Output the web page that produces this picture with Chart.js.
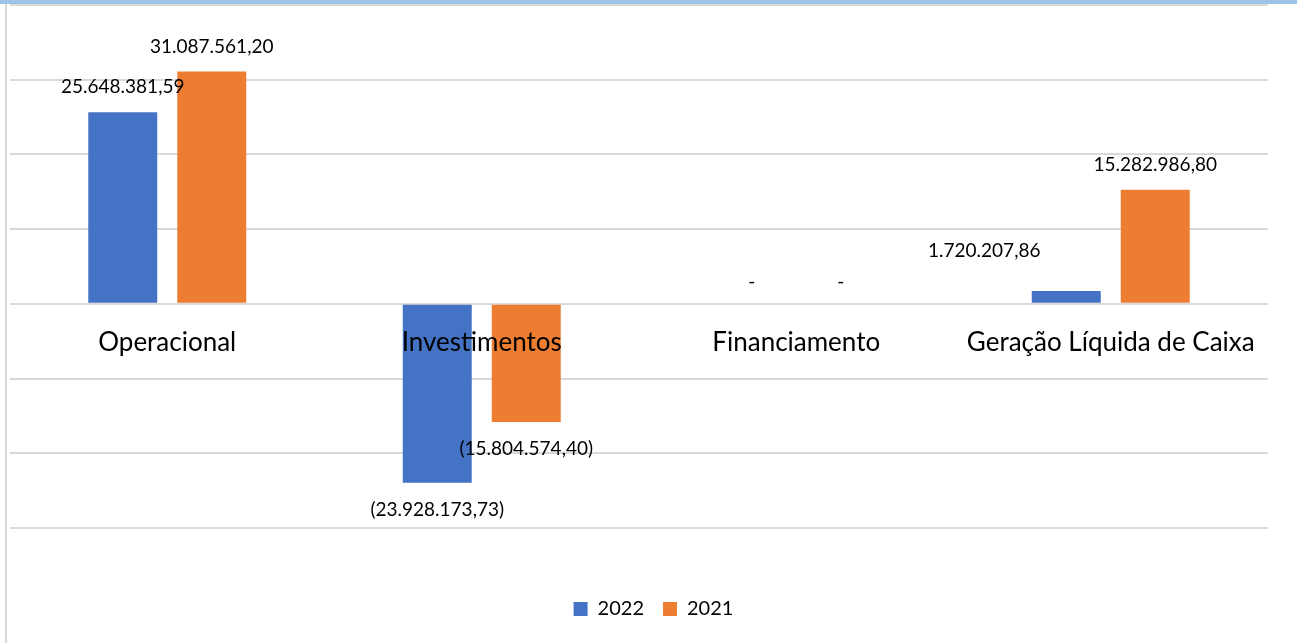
<!DOCTYPE html>
<html>
<head>
<meta charset="utf-8">
<script src="https://cdn.jsdelivr.net/npm/chart.js@4.4.0/dist/chart.umd.min.js"></script>
<style>
    html, body { margin: 0; padding: 0; background: #fff; }
    .frame { position: relative; width: 1297px; height: 643px; overflow: hidden; }
    .frame canvas { position: absolute; left: 0; top: 0; }
    .band { position: absolute; left: 0; top: 0; width: 1297px; height: 4px; background: #9dc3e6; }
    .edge { position: absolute; left: 5px; top: 4px; width: 2px; height: 639px; background: #d9d9d9; }
</style>
</head>
<body>
<div class="frame">
    <canvas id="fluxo" width="1297" height="643"></canvas>
    <div class="band"></div>
    <div class="edge"></div>
</div>
<script>
(function () {
    "use strict";

    const categories = ["Operacional", "Investimentos", "Financiamento", "Geração Líquida de Caixa"];
    const seriesNames = ["2022", "2021"];
    const values2022 = [25648381.59, -23928173.73, 0, 1720207.86];
    const values2021 = [31087561.20, -15804574.40, 0, 15282986.80];

    const FONT = "Lato, 'Open Sans', sans-serif";

    // Excel style number format: #.##0,00;(#.##0,00);"-"
    function brNumber(v) {
        const fixed = Math.abs(v).toFixed(2).split(".");
        const intPart = fixed[0].replace(/\B(?=(\d{3})+(?!\d))/g, ".");
        return intPart + "," + fixed[1];
    }
    function excelLabel(v) {
        if (v === 0) return "-";
        return v < 0 ? "(" + brNumber(v) + ")" : brNumber(v);
    }

    // a label that Excel had dragged aside
    const nudges = { "0-3": { dx: -82, dy: -15 } };

    const valueLabels = {
        id: "valueLabels",
        afterDatasetsDraw(chart) {
            const ctx = chart.ctx;
            ctx.save();
            ctx.font = "19px " + FONT;
            ctx.fillStyle = "#000";
            ctx.textAlign = "center";
            ctx.textBaseline = "middle";
            chart.data.datasets.forEach((ds, di) => {
                chart.getDatasetMeta(di).data.forEach((bar, i) => {
                    const v = ds.data[i];
                    const n = nudges[di + "-" + i] || { dx: 0, dy: 0 };
                    let y = bar.y - 25;
                    if (v < 0) y = bar.y + 27;
                    if (v === 0) y = bar.y - 22;
                    ctx.fillText(excelLabel(v), bar.x + n.dx, y + n.dy);
                });
            });
            ctx.restore();
        },
    };

    // empty axes only used to keep room around the plot
    const spacer = (size, horizontal) => ({
        type: horizontal ? "category" : "linear",
        display: true,
        position: horizontal ? "bottom" : "right",
        grid: { display: false, drawTicks: false },
        border: { display: false },
        ticks: { display: false },
        afterFit(scale) {
            if (horizontal) scale.height = size;
            else scale.width = size;
        },
    });

    const ctx = document.getElementById("fluxo").getContext("2d");
    new Chart(ctx, {
        type: "bar",
        data: {
            labels: categories,
            datasets: [
                {
                    label: seriesNames[0],
                    data: values2022,
                    backgroundColor: "#4472c4",
                    borderWidth: 0,
                },
                {
                    label: seriesNames[1],
                    data: values2021,
                    backgroundColor: "#ed7d31",
                    borderWidth: 0,
                },
            ],
        },
        options: {
            responsive: false,
            animation: false,
            categoryPercentage: 0.566,
            barPercentage: 0.775,
            layout: { padding: { left: 10, right: 0, top: 5, bottom: 14 } },
            scales: {
                x: {
                    position: { y: 0 },
                    grid: { display: false, drawTicks: false },
                    border: { display: false },
                    ticks: {
                        z: 1,
                        color: "#000",
                        padding: 23,
                        maxRotation: 0,
                        autoSkip: false,
                        font: { family: FONT, size: 26 },
                    },
                },
                xGap: spacer(52, true),
                y: {
                    min: -30000000,
                    max: 40000000,
                    ticks: { display: false, stepSize: 10000000 },
                    grid: { color: "#d9d9d9", lineWidth: 2, drawTicks: false },
                    border: { display: false },
                },
                yGap: spacer(29, false),
            },
            plugins: {
                tooltip: { enabled: false },
                legend: {
                    position: "bottom",
                    labels: {
                        color: "#000",
                        boxWidth: 14,
                        boxHeight: 14,
                        padding: 19,
                        font: { family: FONT, size: 20 },
                    },
                },
            },
        },
        plugins: [valueLabels],
    });
})();
</script>
</body>
</html>
